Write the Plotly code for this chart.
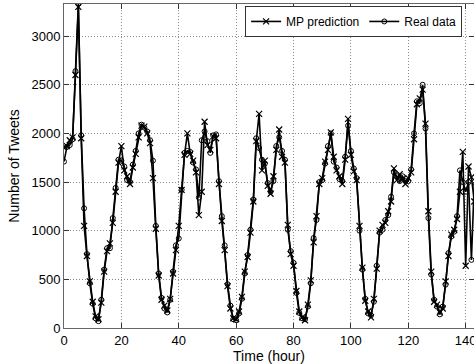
import plotly.graph_objects as go

hours = list(range(0, 144))

real_data = [
    1710, 1860, 1880, 1940, 2640, 3330, 1980, 1230, 760, 460,
    250, 100, 70, 290, 600, 820, 820, 1130, 1440, 1730,
    1720, 1660, 1520, 1500, 1680, 1820, 2000, 2090, 2060, 2020,
    1930, 1720, 1050, 560, 310, 200, 160, 290, 580, 850,
    920, 1420, 1800, 1820, 1810, 1700, 1630, 1340, 1930, 2020,
    1920, 1800, 1980, 1990, 1510, 1150, 850, 450, 230, 90,
    80, 150, 300, 560, 750, 1010, 1320, 1950, 1850, 1730,
    1690, 1490, 1400, 1510, 1870, 1960, 1820, 1730, 1010, 790,
    670, 360, 155, 100, 90, 220, 460, 925, 1110, 1500,
    1520, 1690, 1870, 2000, 1710, 1650, 1530, 1510, 1760, 2080,
    1820, 1640, 1540, 1000, 600, 300, 150, 130, 270, 640,
    980, 1010, 1110, 1160, 1350, 1600, 1560, 1510, 1560, 1510,
    1510, 1630, 2000, 2330, 2310, 2500, 2050, 1130, 550, 290,
    220, 140, 220, 445, 770, 940, 990, 1150, 1620, 1500,
    1400, 1500, 700, 1500,
]

mp_prediction = [
    1860, 1870, 1930, 1960, 2600, 3300, 1950, 1050, 740, 480,
    270, 120, 90, 260, 580, 790, 870, 1080, 1400, 1700,
    1870, 1620, 1560, 1480, 1650, 1790, 1960, 2080, 2070, 2000,
    1900, 1540, 1020, 540, 290, 230, 180, 300, 560, 800,
    1050, 1420, 1780, 2000, 1790, 1720, 1600, 1160, 1400, 2120,
    1880, 1830, 1970, 1950, 1480, 1100, 800, 430, 200, 100,
    90, 170, 320, 580, 730, 980, 1300, 1920, 2200, 1620,
    1720, 1460, 1380, 1560, 1830, 2040, 1760, 1700, 1060, 760,
    640, 380, 170, 110, 80, 240, 490, 880, 1150, 1480,
    1540, 1710, 1830, 2010, 1760, 1620, 1560, 1480, 1730, 2150,
    1780, 1610, 1520, 1050, 620, 280, 170, 110, 300, 610,
    1000, 1060, 1080, 1200, 1300, 1640, 1520, 1580, 1530, 1480,
    1540, 1600, 1940, 2300, 2360, 2450, 2100, 1200, 580, 270,
    240, 160, 200, 480, 740, 960, 1010, 1120, 1400, 1810,
    640, 1660, 1550, 1300,
]

x_ticks = [0, 20, 40, 60, 80, 100, 120, 140]
y_ticks = [0, 500, 1000, 1500, 2000, 2500, 3000]

FONT = "Liberation Sans, Arial, Helvetica, sans-serif"

fig = go.Figure()
fig.add_trace(go.Scatter(
    x=hours, y=mp_prediction, mode="lines+markers", name="MP prediction",
    line=dict(color="black", width=1.6),
    marker=dict(symbol="x-thin-open", size=6, color="black",
                line=dict(color="black", width=1.2)),
))
fig.add_trace(go.Scatter(
    x=hours, y=real_data, mode="lines+markers", name="Real data",
    line=dict(color="black", width=1.6),
    marker=dict(symbol="circle-open", size=5, color="black",
                line=dict(color="black", width=1)),
))

axis_common = dict(
    showline=True, linecolor="#666666", linewidth=1, mirror="ticks",
    ticks="inside", ticklen=5, tickcolor="#333333", tickwidth=1,
    showgrid=True, gridcolor="#8a8a8a", gridwidth=1, griddash="1px,2px",
    zeroline=False, automargin=False, ticklabeloverflow="allow",
    tickfont=dict(family=FONT, size=13, color="black"),
)

fig.update_layout(
    width=474, height=364,
    margin=dict(l=64, r=0, t=4, b=36, autoexpand=False),
    paper_bgcolor="white", plot_bgcolor="white",
    font=dict(family=FONT, size=13, color="black"),
    showlegend=True,
    legend=dict(
        orientation="h", x=0.971, xanchor="right", y=0.994, yanchor="top",
        bordercolor="#333333", borderwidth=1, bgcolor="white",
        font=dict(family=FONT, size=12, color="black"),
        itemwidth=30, tracegroupgap=0,
    ),
    xaxis=dict(
        range=[0, 142.9], tickvals=x_ticks,
        title=dict(text="Time (hour)", font=dict(family=FONT, size=14), standoff=4),
        **axis_common,
    ),
    yaxis=dict(
        range=[0, 3330], tickvals=y_ticks,
        title=dict(text="Number of Tweets", font=dict(family=FONT, size=14), standoff=8),
        **axis_common,
    ),
)

fig.write_html("out.html", config={"displayModeBar": False})

# remove the default page margin so the figure sits at the window's top-left
with open("out.html", "r", encoding="utf-8") as f:
    html = f.read()
html = html.replace("<body>", '<body style="margin:0;padding:0;overflow:hidden">', 1)
with open("out.html", "w", encoding="utf-8") as f:
    f.write(html)
